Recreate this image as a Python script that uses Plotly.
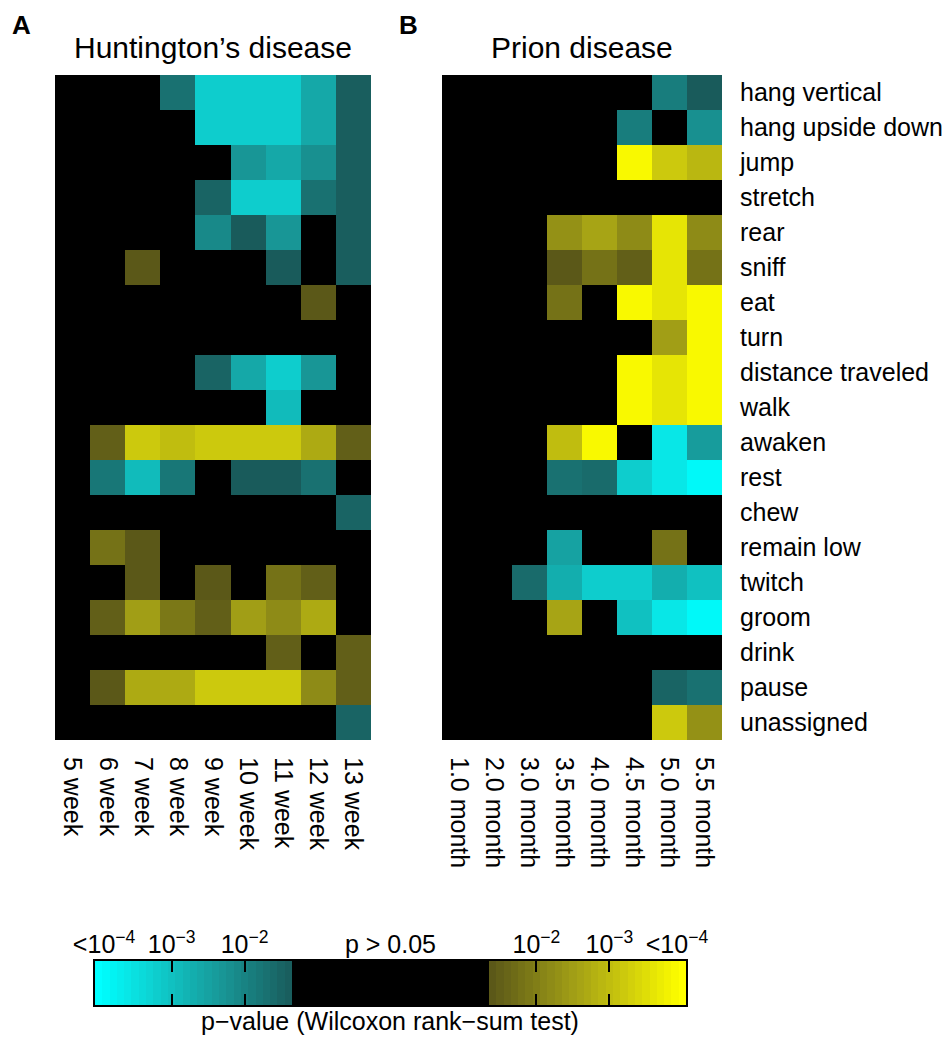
import plotly.graph_objects as go

# ---------------- data ----------------
behaviors = ["hang vertical", "hang upside down", "jump", "stretch", "rear", "sniff",
             "eat", "turn", "distance traveled", "walk", "awaken", "rest", "chew",
             "remain low", "twitch", "groom", "drink", "pause", "unassigned"]

hd_ages = ["5 week", "6 week", "7 week", "8 week", "9 week", "10 week",
           "11 week", "12 week", "13 week"]
prion_ages = ["1.0 month", "2.0 month", "3.0 month", "3.5 month", "4.0 month",
              "4.5 month", "5.0 month", "5.5 month"]

# signed significance: -log10(p); negative = decrease (cyan), positive = increase (yellow), 0 = p > 0.05
hd_sig = [
    [0, 0, 0, -1.7, -3.2, -3.2, -3.2, -2.6, -1.4],
    [0, 0, 0, 0, -3.2, -3.2, -3.2, -2.6, -1.4],
    [0, 0, 0, 0, 0, -2.3, -2.6, -2.2, -1.4],
    [0, 0, 0, 0, -1.5, -3.2, -3.2, -1.7, -1.4],
    [0, 0, 0, 0, -2.1, -1.35, -2.3, 0, -1.4],
    [0, 0, 1.4, 0, 0, 0, -1.35, 0, -1.4],
    [0, 0, 0, 0, 0, 0, 0, 1.4, 0],
    [0, 0, 0, 0, 0, 0, 0, 0, 0],
    [0, 0, 0, 0, -1.5, -2.6, -3.2, -2.3, 0],
    [0, 0, 0, 0, 0, 0, -2.9, 0, 0],
    [0, 1.5, 3.2, 3.0, 3.2, 3.2, 3.2, 2.7, 1.5],
    [0, -1.8, -2.9, -1.8, 0, -1.35, -1.35, -1.7, 0],
    [0, 0, 0, 0, 0, 0, 0, 0, -1.5],
    [0, 1.8, 1.4, 0, 0, 0, 0, 0, 0],
    [0, 0, 1.4, 0, 1.4, 0, 1.8, 1.5, 0],
    [0, 1.5, 2.5, 1.9, 1.5, 2.5, 2.2, 2.7, 0],
    [0, 0, 0, 0, 0, 0, 1.5, 0, 1.5],
    [0, 1.4, 2.7, 2.7, 3.2, 3.2, 3.2, 2.2, 1.5],
    [0, 0, 0, 0, 0, 0, 0, 0, -1.5],
]

prion_sig = [
    [0, 0, 0, 0, 0, 0, -1.9, -1.35],
    [0, 0, 0, 0, 0, -1.9, 0, -2.2],
    [0, 0, 0, 0, 0, 3.9, 3.2, 2.9],
    [0, 0, 0, 0, 0, 0, 0, 0],
    [0, 0, 0, 2.3, 2.6, 2.2, 3.6, 2.2],
    [0, 0, 0, 1.4, 1.8, 1.5, 3.6, 1.8],
    [0, 0, 0, 1.8, 0, 3.9, 3.6, 3.9],
    [0, 0, 0, 0, 0, 0, 2.5, 3.9],
    [0, 0, 0, 0, 0, 3.9, 3.6, 3.9],
    [0, 0, 0, 0, 0, 3.9, 3.6, 3.9],
    [0, 0, 0, 3.0, 3.9, 0, -3.6, -2.4],
    [0, 0, 0, -1.7, -1.6, -3.2, -3.6, -3.9],
    [0, 0, 0, 0, 0, 0, 0, 0],
    [0, 0, 0, -2.5, 0, 0, 1.8, 0],
    [0, 0, -1.6, -2.7, -3.2, -3.2, -2.7, -3.0],
    [0, 0, 0, 2.6, 0, -3.0, -3.6, -3.9],
    [0, 0, 0, 0, 0, 0, 0, 0],
    [0, 0, 0, 0, 0, 0, -1.5, -1.7],
    [0, 0, 0, 0, 0, 0, 3.2, 2.3],
]

# colorbar scale: significance levels shown (per 0.1 decade), and labels
S_MIN, S_MAX, STEP = 1.3, 4.0, 0.1
N_STRIPES = 27
bar_labels = ["&lt;10<sup>−4</sup>", "10<sup>−3</sup>", "10<sup>−2</sup>", "p &gt; 0.05",
              "10<sup>−2</sup>", "10<sup>−3</sup>", "&lt;10<sup>−4</sup>"]
bar_title = "p−value (Wilcoxon rank−sum test)"

# ---------------- colours ----------------
cyan_stops = [(0, (25, 88, 88)), (0.36, (24, 148, 148)), (0.5, (20, 171, 171)),
              (0.707, (14, 206, 206)), (0.86, (8, 232, 232)), (0.95, (0, 247, 247)),
              (1, (0, 255, 255))]
yellow_stops = [(0, (85, 82, 24)), (0.45, (162, 159, 22)), (0.72, (207, 204, 12)),
                (0.95, (247, 247, 0)), (1, (255, 255, 0))]


def rgb(c):
    return "rgb(%d,%d,%d)" % c


colorscale = []
for t, c in reversed(cyan_stops):
    s = S_MIN + (S_MAX - S_MIN) * t
    colorscale.append([(S_MAX - s) / (2 * S_MAX), rgb(c)])
colorscale.append([(S_MAX - S_MIN) / (2 * S_MAX), "rgb(0,0,0)"])
colorscale.append([(S_MAX + S_MIN) / (2 * S_MAX), "rgb(0,0,0)"])
for t, c in yellow_stops:
    s = S_MIN + (S_MAX - S_MIN) * t
    colorscale.append([(S_MAX + s) / (2 * S_MAX), rgb(c)])

FONT = "Liberation Sans, Arial, Helvetica, sans-serif"
OFF = 8                      # page body margin of the html page
W, H = 952 - OFF, 1046 - OFF  # figure size


def px_x(a, b):
    return [(a - OFF) / W, (b - OFF) / W]


def px_y(top, bottom):
    return [1 - (bottom - OFF) / H, 1 - (top - OFF) / H]


def pxx(a):
    return (a - OFF) / W


def pxy(a):
    return 1 - (a - OFF) / H


fig = go.Figure()

fig.add_trace(go.Heatmap(z=hd_sig, x=hd_ages, y=behaviors, colorscale=colorscale,
                         zmin=-S_MAX, zmax=S_MAX, showscale=False,
                         xaxis="x", yaxis="y", hoverinfo="skip"))
fig.add_trace(go.Heatmap(z=prion_sig, x=prion_ages, y=behaviors, colorscale=colorscale,
                         zmin=-S_MAX, zmax=S_MAX, showscale=False,
                         xaxis="x2", yaxis="y2", hoverinfo="skip"))

# colour bar strip
bar_levels = ([-round(S_MAX - STEP * i, 1) for i in range(N_STRIPES)] +
              [0] * N_STRIPES +
              [round(S_MIN + STEP * (j + 1), 1) for j in range(N_STRIPES)])
bar_x = [(k + 0.5) / N_STRIPES for k in range(3 * N_STRIPES)]
fig.add_trace(go.Heatmap(z=[bar_levels], x=bar_x, y=[0.5], colorscale=colorscale,
                         zmin=-S_MAX, zmax=S_MAX, showscale=False,
                         xaxis="x3", yaxis="y3", hoverinfo="skip"))


def stripe_pos(level):
    # position of a stripe centre on the bar axis for a signed level
    if level < 0:
        i = round((S_MAX + level) / STEP)
        return (i + 0.5) / N_STRIPES
    j = round((level - S_MIN) / STEP) - 1
    return 2 + (j + 0.5) / N_STRIPES


tick_marks = [stripe_pos(-3.0), stripe_pos(-2.0), stripe_pos(2.0), stripe_pos(3.0)]
label_pos = [0.046, tick_marks[0], tick_marks[1], 1.5, tick_marks[2], tick_marks[3], 2.954]

tickfont = dict(family=FONT, size=25, color="black")

fig.update_layout(
    width=W, height=H,
    margin=dict(l=0, r=0, t=0, b=0, autoexpand=False),
    paper_bgcolor="white", plot_bgcolor="white",
    font=dict(family=FONT, color="black"),
    xaxis=dict(domain=px_x(55, 371), anchor="y", tickangle=90, side="bottom",
               showgrid=False, zeroline=False, ticks="", tickfont=tickfont,
               ticklabelstandoff=16, automargin=False),
    yaxis=dict(domain=px_y(75, 740), anchor="x", autorange="reversed",
               showticklabels=False, showgrid=False, zeroline=False, ticks="",
               automargin=False),
    xaxis2=dict(domain=px_x(442, 722), anchor="y2", tickangle=90, side="bottom",
                showgrid=False, zeroline=False, ticks="", tickfont=tickfont,
                ticklabelstandoff=16, automargin=False),
    yaxis2=dict(domain=px_y(75, 740), anchor="x2", autorange="reversed", side="right",
                showgrid=False, zeroline=False, ticks="", tickfont=tickfont,
                ticklabelstandoff=17, automargin=False),
    xaxis3=dict(domain=px_x(95, 686), anchor="y3", range=[0, 3], side="top",
                tickmode="array", tickvals=label_pos, ticktext=bar_labels,
                ticks="", tickfont=tickfont, ticklabelstandoff=-4,
                minor=dict(tickmode="array", tickvals=tick_marks, ticks="inside",
                           ticklen=11, tickwidth=1.5, tickcolor="black", showgrid=False),
                showline=True, linecolor="black", linewidth=1.5, mirror="ticks",
                showgrid=False, zeroline=False, automargin=False),
    yaxis3=dict(domain=px_y(961, 1005), anchor="x3", range=[0, 1],
                showticklabels=False, ticks="", showline=True, linecolor="black",
                linewidth=1.5, mirror=True, showgrid=False, zeroline=False,
                automargin=False),
    annotations=[
        dict(text="Huntington’s disease", x=pxx(213), y=pxy(47), xref="paper", yref="paper",
             xanchor="center", yanchor="middle", showarrow=False,
             font=dict(family=FONT, size=30, color="black")),
        dict(text="Prion disease", x=pxx(582), y=pxy(47), xref="paper", yref="paper",
             xanchor="center", yanchor="middle", showarrow=False,
             font=dict(family=FONT, size=30, color="black")),
        dict(text="<b>A</b>", x=pxx(21), y=pxy(25), xref="paper", yref="paper",
             xanchor="center", yanchor="middle", showarrow=False,
             font=dict(family=FONT, size=26, color="black")),
        dict(text="<b>B</b>", x=pxx(408), y=pxy(25), xref="paper", yref="paper",
             xanchor="center", yanchor="middle", showarrow=False,
             font=dict(family=FONT, size=26, color="black")),
        dict(text=bar_title, x=pxx(390), y=pxy(1021), xref="paper", yref="paper",
             xanchor="center", yanchor="middle", showarrow=False,
             font=dict(family=FONT, size=25, color="black")),
    ],
)

fig.write_html("out.html")
